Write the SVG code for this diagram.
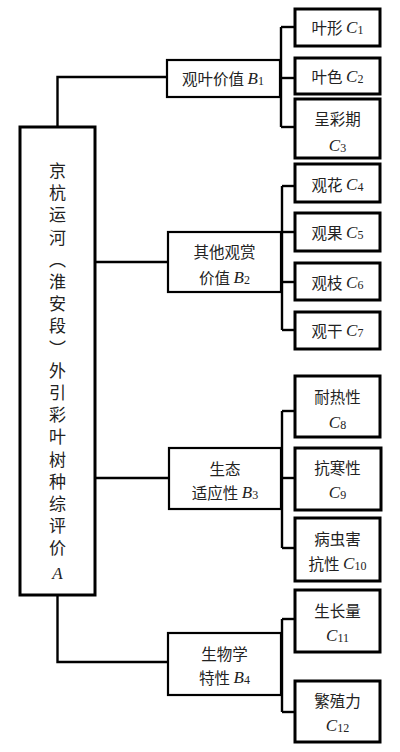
<svg xmlns="http://www.w3.org/2000/svg" width="400" height="752" viewBox="0 0 400 752">
<style>
.bg{fill:#fff}
.a{fill:#fff;stroke:#000;stroke-width:3}
.b{fill:#fff;stroke:#000;stroke-width:2.2}
.c{fill:#fff;stroke:#000;stroke-width:3}
.ln{fill:none;stroke:#000;stroke-width:2.4}
text{font-family:"Noto Sans CJK SC","Noto Sans CJK JP",sans-serif;font-size:15.5px;fill:#222;text-anchor:middle;dominant-baseline:central}
.it{font-family:"Liberation Serif",serif;font-style:italic;font-size:17px}
.sb{font-family:"Liberation Serif",serif;font-size:12px}
.vt{font-size:17px;writing-mode:vertical-rl;text-anchor:start;letter-spacing:5.2px}
</style>
<rect class="bg" x="0" y="0" width="400" height="752"/>
<g id="connectors">
<polyline class="ln" points="57.5,127 57.5,77 167,77"/>
<line class="ln" x1="95" y1="262" x2="168" y2="262"/>
<line class="ln" x1="95" y1="478" x2="169" y2="478"/>
<polyline class="ln" points="57.5,595 57.5,662 168,662"/>
<line class="ln" x1="281" y1="27" x2="281" y2="127"/>
<line class="ln" x1="281" y1="27" x2="295" y2="27"/>
<line class="ln" x1="281" y1="78" x2="295" y2="78"/>
<line class="ln" x1="281" y1="127" x2="295" y2="127"/>
<line class="ln" x1="282" y1="186" x2="282" y2="330"/>
<line class="ln" x1="282" y1="186" x2="295" y2="186"/>
<line class="ln" x1="282" y1="232" x2="295" y2="232"/>
<line class="ln" x1="282" y1="282" x2="295" y2="282"/>
<line class="ln" x1="282" y1="330" x2="295" y2="330"/>
<line class="ln" x1="282" y1="411" x2="282" y2="548"/>
<line class="ln" x1="282" y1="411" x2="295" y2="411"/>
<line class="ln" x1="282" y1="478" x2="295" y2="478"/>
<line class="ln" x1="282" y1="548" x2="295" y2="548"/>
<line class="ln" x1="282" y1="619" x2="282" y2="712"/>
<line class="ln" x1="282" y1="619" x2="295" y2="619"/>
<line class="ln" x1="282" y1="712" x2="295" y2="712"/>
</g>
<g id="A">
<rect class="a" x="20" y="127" width="75" height="468"/>
<text class="vt" x="57.5" y="162">京杭运河（淮安段）外引彩叶树种综评价</text>
<text class="it" x="57.5" y="573">A</text>
</g>
<g id="B1">
<rect class="b" x="167" y="60" width="113" height="37"/>
<text x="223" y="78">观叶价值 <tspan class="it">B</tspan><tspan class="sb" dy="3">1</tspan></text>
</g>
<g id="B2">
<rect class="b" x="168" y="232" width="113" height="60"/>
<text x="224.5" y="251">其他观赏</text>
<text x="224.5" y="277">价值 <tspan class="it">B</tspan><tspan class="sb" dy="3">2</tspan></text>
</g>
<g id="B3">
<rect class="b" x="169" y="448" width="112" height="61"/>
<text x="225" y="468">生态</text>
<text x="225" y="492">适应性 <tspan class="it">B</tspan><tspan class="sb" dy="3">3</tspan></text>
</g>
<g id="B4">
<rect class="b" x="168" y="633" width="113" height="62"/>
<text x="224.5" y="653">生物学</text>
<text x="224.5" y="677">特性 <tspan class="it">B</tspan><tspan class="sb" dy="3">4</tspan></text>
</g>
<g id="C1">
<rect class="c" x="295" y="9" width="85" height="37"/>
<text x="337.5" y="27">叶形 <tspan class="it">C</tspan><tspan class="sb" dy="3">1</tspan></text>
</g>
<g id="C2">
<rect class="c" x="295" y="58" width="85" height="36"/>
<text x="337.5" y="76">叶色 <tspan class="it">C</tspan><tspan class="sb" dy="3">2</tspan></text>
</g>
<g id="C3">
<rect class="c" x="295" y="99" width="85" height="59"/>
<text x="337.5" y="118">呈彩期</text>
<text x="337.5" y="145"><tspan class="it">C</tspan><tspan class="sb" dy="3">3</tspan></text>
</g>
<g id="C4">
<rect class="c" x="295" y="164" width="85" height="38"/>
<text x="337.5" y="184">观花 <tspan class="it">C</tspan><tspan class="sb" dy="3">4</tspan></text>
</g>
<g id="C5">
<rect class="c" x="295" y="213" width="85" height="38"/>
<text x="337.5" y="232">观果 <tspan class="it">C</tspan><tspan class="sb" dy="3">5</tspan></text>
</g>
<g id="C6">
<rect class="c" x="295" y="263" width="85" height="37"/>
<text x="337.5" y="282">观枝 <tspan class="it">C</tspan><tspan class="sb" dy="3">6</tspan></text>
</g>
<g id="C7">
<rect class="c" x="295" y="312" width="85" height="37"/>
<text x="337.5" y="330">观干 <tspan class="it">C</tspan><tspan class="sb" dy="3">7</tspan></text>
</g>
<g id="C8">
<rect class="c" x="295" y="376" width="85" height="61"/>
<text x="337.5" y="396">耐热性</text>
<text x="337.5" y="422"><tspan class="it">C</tspan><tspan class="sb" dy="3">8</tspan></text>
</g>
<g id="C9">
<rect class="c" x="295" y="448" width="86" height="62"/>
<text x="337.5" y="467">抗寒性</text>
<text x="337.5" y="492"><tspan class="it">C</tspan><tspan class="sb" dy="3">9</tspan></text>
</g>
<g id="C10">
<rect class="c" x="295" y="518" width="85" height="63"/>
<text x="337.5" y="538">病虫害</text>
<text x="337.5" y="563">抗性 <tspan class="it">C</tspan><tspan class="sb" dy="3">10</tspan></text>
</g>
<g id="C11">
<rect class="c" x="295" y="590" width="85" height="62"/>
<text x="337.5" y="610">生长量</text>
<text x="337.5" y="635"><tspan class="it">C</tspan><tspan class="sb" dy="3">11</tspan></text>
</g>
<g id="C12">
<rect class="c" x="295" y="681" width="85" height="61"/>
<text x="337.5" y="700">繁殖力</text>
<text x="337.5" y="725"><tspan class="it">C</tspan><tspan class="sb" dy="3">12</tspan></text>
</g>
</svg>
